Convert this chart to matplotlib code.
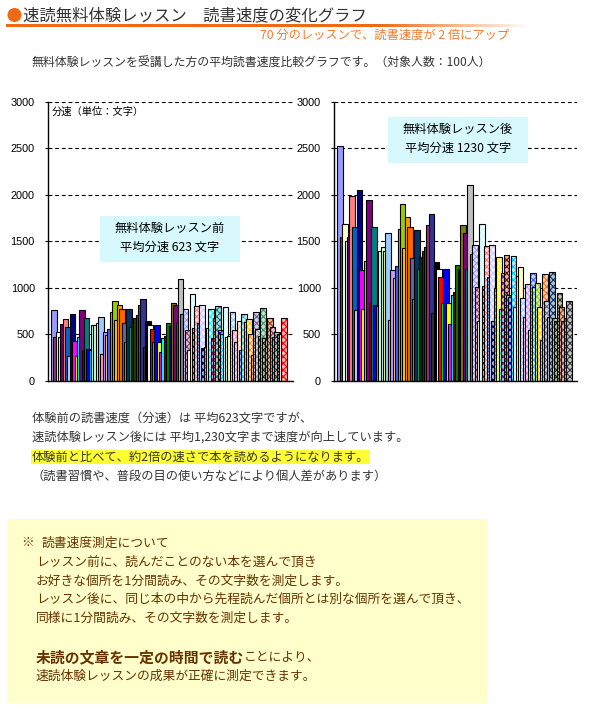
import matplotlib.pyplot as plt
import matplotlib.colors as mcolors
import numpy as np
from matplotlib.patches import Rectangle, Ellipse

plt.rcParams['font.family'] = ['Noto Sans CJK JP', 'DejaVu Sans']
plt.rcParams['hatch.linewidth'] = 0.8

# --- DATA ---
# reading speed (characters per minute) of each participant, in series order
before_speed = [762, 469, 523, 469, 616, 662, 576, 270, 716, 430,
                272, 476, 762, 333, 673, 340, 330, 598, 600, 619,
                687, 286, 523, 490, 555, 737, 859, 655, 816, 773,
                619, 415, 773, 583, 630, 673, 709, 816, 881, 362,
                644, 601, 562, 415, 601, 415, 315, 458, 483, 619,
                591, 834, 816, 619, 1092, 720, 770, 548, 333, 931,
                573, 805, 619, 813, 358, 369, 566, 770, 458, 673,
                805, 548, 500, 795, 476, 480, 737, 548, 415, 644,
                333, 716, 630, 662, 501, 279, 737, 555, 487, 780,
                458, 458, 680, 583, 476, 523, 500, 500, 680]

after_speed = [2522, 1552, 1689, 1509, 1552, 1983, 1649, 765, 2048, 1193,
               772, 1286, 1940, 837, 1649, 815, 805, 1398, 1437, 1400,
               1595, 654, 1193, 1107, 1236, 1635, 1897, 1430, 1757, 1649,
               1322, 880, 1617, 1204, 1337, 1398, 1444, 1678, 1796, 726,
               1283, 1204, 1121, 837, 1204, 837, 611, 923, 959, 1250,
               1204, 1678, 1592, 1204, 2109, 1366, 1463, 1006, 647, 1689,
               1024, 1445, 1121, 1463, 647, 999, 1336, 772, 1161, 1354,
               923, 898, 1347, 790, 1132, 1229, 891, 683, 1042, 546,
               1161, 1013, 1053, 794, 442, 1150, 859, 683, 1168, 676,
               647, 945, 798, 647, 672, 862]

y_ticks = [0, 500, 1000, 1500, 2000, 2500, 3000]

# Excel's default series colours (solid first, then repeated with a pattern)
PALETTE = ['#9999FF', '#993366', '#FFFFCC', '#CCFFFF', '#660066', '#FF8080',
           '#0066CC', '#CCCCFF', '#000080', '#FF00FF', '#FFFF00', '#00FFFF',
           '#800080', '#800000', '#008080', '#0000FF', '#00CCFF', '#CCFFFF',
           '#CCFFCC', '#FFFF99', '#99CCFF', '#FF99CC', '#CC99FF', '#FFCC99',
           '#3366FF', '#33CCCC', '#99CC00', '#FFCC00', '#FF9900', '#FF6600',
           '#666699', '#969696', '#003366', '#339966', '#003300', '#333300',
           '#993300', '#993366', '#333399', '#333333', '#000000', '#FFFFFF',
           '#FF0000', '#00FF00', '#0000FF', '#FFFF00', '#FF00FF', '#00FFFF',
           '#800000', '#008000', '#000080', '#808000', '#800080', '#008080',
           '#C0C0C0', '#808080']

ORANGE = '#F06A14'
TEXT = '#333333'
BROWN = '#663300'

W, H = 597, 710
fig = plt.figure(figsize=(W / 100, H / 100), dpi=100)


def fx(x):
    return x / W


def fy(y):
    return 1 - y / H


# --- HEADER ---
fig.add_artist(Ellipse((fx(14.5), fy(15)), 14 / W, 14 / H,
                       transform=fig.transFigure, color=ORANGE, lw=0))
fig.text(fx(23), fy(15.5), '速読無料体験レッスン　読書速度の変化グラフ',
         fontsize=11.8, va='center', color=TEXT)

# orange rule fading out to white
line_ax = fig.add_axes([fx(6), fy(27.5), (530 - 6) / W, 3.5 / H])
px = np.linspace(6, 530, 600)
fade = np.clip((px - 380) / 150, 0, 1)[None, :, None]
orange_rgb = np.array([0xF0, 0x6A, 0x14]) / 255
line_ax.imshow(orange_rgb * (1 - fade) + fade, aspect='auto')
line_ax.axis('off')

fig.text(fx(260), fy(35), '70 分のレッスンで、読書速度が 2 倍にアップ',
         fontsize=8.8, va='center', color='#F07C2C')
fig.text(fx(32), fy(63.5),
         '無料体験レッスンを受講した方の平均読書速度比較グラフです。（対象人数：100人）',
         fontsize=8.6, va='center', color=TEXT)


# --- CHARTS ---
def tint(col, k):
    rgb = np.array(mcolors.to_rgb(col))
    return tuple(rgb * k + (1 - k))


def draw_chart(ax, values, bar_w, xlim):
    for i, v in enumerate(values):
        col = PALETTE[i % len(PALETTE)]
        if i < len(PALETTE):
            ax.bar(i, v, bar_w, align='edge', color=col,
                   edgecolor='black', linewidth=0.8)
        else:
            ax.bar(i, v, bar_w, align='edge', color=tint(col, 0.3),
                   edgecolor=col, hatch='xxxxx', linewidth=0)
            ax.bar(i, v, bar_w, align='edge', fill=False,
                   edgecolor='black', linewidth=0.8)
    ax.set_xlim(*xlim)
    ax.set_ylim(0, 3000)
    ax.set_yticks(y_ticks)
    ax.set_xticks([])
    ax.set_axisbelow(True)
    ax.yaxis.grid(True, linestyle=(0, (3.5, 2.5)), color='black', linewidth=0.8)
    for s in ['top', 'right']:
        ax.spines[s].set_visible(False)
    for s in ['left', 'bottom']:
        ax.spines[s].set_linewidth(1.0)
    ax.tick_params(axis='y', length=2.5, width=0.8, pad=7,
                   labelsize=7.8, labelcolor='black')
    for lab in ax.get_yticklabels():
        lab.set_fontfamily(['Liberation Sans', 'DejaVu Sans'])


ax1 = fig.add_axes([fx(48), fy(381), 245 / W, 279.3 / H])
draw_chart(ax1, before_speed, 2.34, (-1.3, 103.0))
ax1.text(fx(52), fy(112), '分速（単位：文字）', transform=fig.transFigure,
         fontsize=7.4, va='center', color='black')

ax2 = fig.add_axes([fx(334), fy(381), 243 / W, 279.3 / H])
draw_chart(ax2, after_speed, 2.28, (-1.37, 99.5))

# annotation boxes
for (x0, y0, x1, y1), lines in [((100, 216, 240, 262),
                                  ['無料体験レッスン前', '平均分速 623 文字']),
                                 ((388, 117, 528, 163),
                                  ['無料体験レッスン後', '平均分速 1230 文字'])]:
    fig.add_artist(Rectangle((fx(x0), fy(y1)), (x1 - x0) / W, (y1 - y0) / H,
                             transform=fig.transFigure, color='#D7F8FC', lw=0))
    cx = (x0 + x1) / 2
    for k, txt in enumerate(lines):
        fig.text(fx(cx), fy(y0 + 12.5 + k * 19), txt, fontsize=8.8,
                 ha='center', va='center', color='black')

# --- EXPLANATION TEXT ---
para = ['体験前の読書速度（分速）は 平均623文字ですが、',
        '速読体験レッスン後には 平均1,230文字まで速度が向上しています。',
        '体験前と比べて、約2倍の速さで本を読めるようになります。',
        '（読書習慣や、普段の目の使い方などにより個人差があります）']
for k, txt in enumerate(para):
    box = None
    if k == 2:
        box = dict(facecolor='#FFFF33', edgecolor='none', pad=0.6)
    fig.text(fx(32), fy(418 + k * 19.5), txt, fontsize=8.8,
             va='center', color=TEXT, bbox=box)

# --- NOTE BOX ---
fig.add_artist(Rectangle((fx(7), fy(703)), (487 - 7) / W, (703 - 519) / H,
                         transform=fig.transFigure, color='#FFFFCC', lw=0))
fig.text(fx(21), fy(543), '※', fontsize=9.2, va='center', color=BROWN)
fig.text(fx(42), fy(543), '読書速度測定について', fontsize=9.2,
         va='center', color=BROWN)
note = ['レッスン前に、読んだことのない本を選んで頂き',
        'お好きな個所を1分間読み、その文字数を測定します。',
        'レッスン後に、同じ本の中から先程読んだ個所とは別な個所を選んで頂き、',
        '同様に1分間読み、その文字数を測定します。']
for k, txt in enumerate(note):
    fig.text(fx(36), fy(562 + k * 18.8), txt, fontsize=9.2,
             va='center', color=BROWN)

bold = fig.text(fx(36), fy(657), '未読の文章を一定の時間で読む', fontsize=10.7,
                fontweight='bold', va='center', color=BROWN)
r = fig.canvas.get_renderer()
bb = bold.get_window_extent(renderer=r)
fig.text(bb.x1 / W, fy(657), 'ことにより、', fontsize=9.2,
         va='center', color=BROWN)
fig.text(fx(36), fy(676), '速読体験レッスンの成果が正確に測定できます。',
         fontsize=9.2, va='center', color=BROWN)

fig.savefig('out.png', dpi=100)
